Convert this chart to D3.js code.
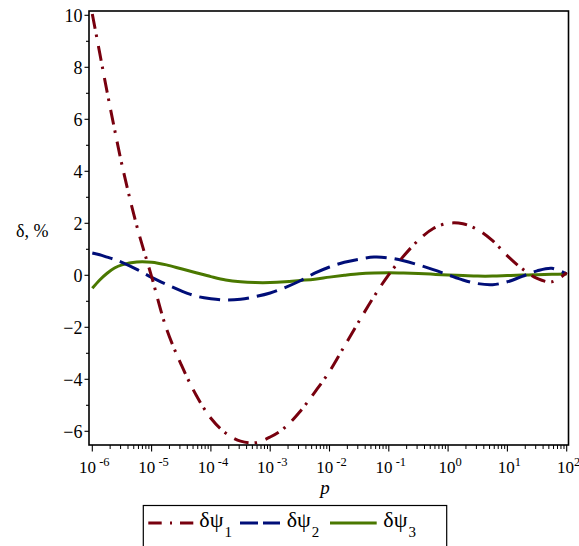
<!DOCTYPE html>
<html>
<head>
<meta charset="utf-8">
<script src="https://cdn.jsdelivr.net/npm/d3@7"></script>
<style>
  html, body { margin: 0; padding: 0; background: #ffffff; }
  svg { display: block; }
</style>
</head>
<body>
<script>
// Sample points: exponent of p (p = 10^e) and the relative deviations, %
const pExponents = [-6, -5.875, -5.75, -5.625, -5.5, -5.25, -5, -4.75, -4.5, -4.25, -4, -3.75, -3.5, -3.25,
  -3, -2.75, -2.5, -2.25, -2, -1.75, -1.5, -1.25, -1, -0.75, -0.5, -0.25,
  0, 0.25, 0.5, 0.75, 1, 1.25, 1.5, 1.75, 2];

const dPsi1 = [10.05, 8.55, 7.05, 5.62, 4.25, 1.9, -0.05, -2.05, -3.44, -4.6, -5.5, -6.07, -6.38, -6.44,
  -6.22, -5.85, -5.25, -4.5, -3.7, -2.73, -1.76, -0.82, 0.03, 0.74, 1.35, 1.8,
  2.0, 1.98, 1.75, 1.33, 0.75, 0.25, -0.12, -0.25, 0.1];

const dPsi2 = [0.86, 0.79, 0.7, 0.61, 0.5, 0.23, -0.08, -0.35, -0.6, -0.8, -0.9, -0.95, -0.92, -0.82,
  -0.68, -0.47, -0.22, 0.08, 0.32, 0.5, 0.62, 0.7, 0.67, 0.56, 0.4, 0.22,
  0.02, -0.18, -0.32, -0.36, -0.25, -0.04, 0.17, 0.27, 0.05];

const dPsi3 = [-0.5, -0.18, 0.08, 0.28, 0.4, 0.51, 0.5, 0.4, 0.25, 0.1, -0.05, -0.18, -0.25, -0.28,
  -0.28, -0.25, -0.2, -0.15, -0.07, 0.0, 0.06, 0.09, 0.1, 0.09, 0.07, 0.04,
  0.01, -0.01, -0.03, -0.03, -0.01, 0.01, 0.02, 0.04, 0.05];

// Axis ticks
const xTickExponents = [-6, -5, -4, -3, -2, -1, 0, 1, 2];
const xMinorMultipliers = [2, 3, 4, 5, 6, 7, 8, 9];
const yTicks = [-6, -4, -2, 0, 2, 4, 6, 8, 10];
const yMinorTicks = [-5, -3, -1, 1, 3, 5, 7, 9];

// Legend
const seriesLabels = ["1", "2", "3"];
const seriesValues = [dPsi1, dPsi2, dPsi3];

// Drawing styles
const seriesColors = ["#78000E", "#000E78", "#4A7800"];
const seriesDash = ["15,6,2.5,9", "21,8", null];
const legendDash = ["13.4,8.3,2,8", "18,5", null];
const legendLine = [[148.3, 193.3], [240, 280], [330, 376.7]];
const legendText = [199.3, 286.7, 383.3];

const W = 579, H = 546;
const frame = { left: 89, right: 568.5, top: 11, bottom: 445 };
const FONT = '"Liberation Serif"';

const svg = d3.select("body").append("svg")
  .attr("width", W).attr("height", H)
  .attr("viewBox", `0 0 ${W} ${H}`);

const x = d3.scaleLog().domain([1e-6, 1e2]).range([92.3, 566.7]);
const y = d3.scaleLinear().domain([-6, 10]).range([431.3, 15.3]);

svg.append("defs").append("clipPath").attr("id", "plotclip")
  .append("rect")
  .attr("x", frame.left).attr("y", frame.top - 4)
  .attr("width", frame.right - frame.left).attr("height", frame.bottom - frame.top + 4);

// Curves
const line = d3.line()
  .x(d => x(Math.pow(10, d[0])))
  .y(d => y(d[1]))
  .curve(d3.curveCatmullRom.alpha(0.5));

const curves = svg.append("g").attr("clip-path", "url(#plotclip)");
// the solid curve first, the dashed ones on top
[2, 1, 0].forEach(i => {
  const pts = pExponents.map((e, k) => [e, seriesValues[i][k]]);
  curves.append("path")
    .attr("d", line(pts))
    .attr("fill", "none")
    .attr("stroke", seriesColors[i])
    .attr("stroke-width", 3)
    .attr("stroke-dasharray", seriesDash[i])
    .attr("stroke-linejoin", "round");
});

// Frame
svg.append("rect")
  .attr("x", frame.left).attr("y", frame.top)
  .attr("width", frame.right - frame.left).attr("height", frame.bottom - frame.top)
  .attr("fill", "none").attr("stroke", "#000").attr("stroke-width", 1.6);

// Y axis ticks
const yAxisG = svg.append("g");
yTicks.forEach(v => {
  yAxisG.append("line")
    .attr("x1", frame.left - 4.5).attr("x2", frame.left)
    .attr("y1", y(v)).attr("y2", y(v))
    .attr("stroke", "#000").attr("stroke-width", 1.1);
  yAxisG.append("text")
    .attr("x", frame.left - 6.5).attr("y", y(v) + 7)
    .attr("text-anchor", "end")
    .style("font-family", FONT).style("font-size", "18px")
    .attr("fill", "#000")
    .text(v < 0 ? "\u2212" + Math.abs(v) : String(v));
});
yMinorTicks.forEach(v => {
  yAxisG.append("line")
    .attr("x1", frame.left - 3).attr("x2", frame.left)
    .attr("y1", y(v)).attr("y2", y(v))
    .attr("stroke", "#000").attr("stroke-width", 1.1);
});

// X axis ticks
const xAxisG = svg.append("g");
xTickExponents.forEach(e => {
  const px = x(Math.pow(10, e));
  xAxisG.append("line")
    .attr("x1", px).attr("x2", px)
    .attr("y1", frame.bottom).attr("y2", frame.bottom + 6.5)
    .attr("stroke", "#000").attr("stroke-width", 1.1);
  const t = xAxisG.append("text")
    .attr("x", px + 2).attr("y", 473.3)
    .attr("text-anchor", "middle")
    .style("font-family", FONT).style("font-size", "17px")
    .attr("fill", "#000");
  t.append("tspan").text("10");
  t.append("tspan")
    .style("font-size", "12.5px").attr("dy", -7)
    .text(e < 0 ? "\u00a0-" + Math.abs(e) : String(e));
  if (e < 2) {
    xMinorMultipliers.forEach(m => {
      const mx = x(m * Math.pow(10, e));
      xAxisG.append("line")
        .attr("x1", mx).attr("x2", mx)
        .attr("y1", frame.bottom).attr("y2", frame.bottom + 4)
        .attr("stroke", "#000").attr("stroke-width", 1);
    });
  }
});

// Axis titles
svg.append("text")
  .attr("x", 325).attr("y", 494)
  .attr("text-anchor", "middle")
  .style("font-family", FONT).style("font-size", "19px").style("font-style", "italic")
  .text("p");

svg.append("text")
  .attr("x", 16).attr("y", 237)
  .style("font-family", FONT).style("font-size", "18px")
  .text("\u03b4, %");

// Legend
const lg = svg.append("g");
lg.append("rect")
  .attr("x", 143.3).attr("y", 505.5)
  .attr("width", 446.7 - 143.3).attr("height", 60)
  .attr("fill", "#fff").attr("stroke", "#000").attr("stroke-width", 1.2);

seriesLabels.forEach((lab, i) => {
  lg.append("line")
    .attr("x1", legendLine[i][0]).attr("x2", legendLine[i][1])
    .attr("y1", 523).attr("y2", 523)
    .attr("stroke", seriesColors[i]).attr("stroke-width", 3)
    .attr("stroke-dasharray", legendDash[i]);
  const t = lg.append("text")
    .attr("x", legendText[i]).attr("y", 527)
    .style("font-family", FONT).style("font-size", "22px")
    .attr("fill", "#000");
  t.append("tspan").text("\u03b4\u03c8");
  t.append("tspan").style("font-size", "15px").attr("dy", 10).attr("dx", 1).text(lab);
});
</script>
</body>
</html>
